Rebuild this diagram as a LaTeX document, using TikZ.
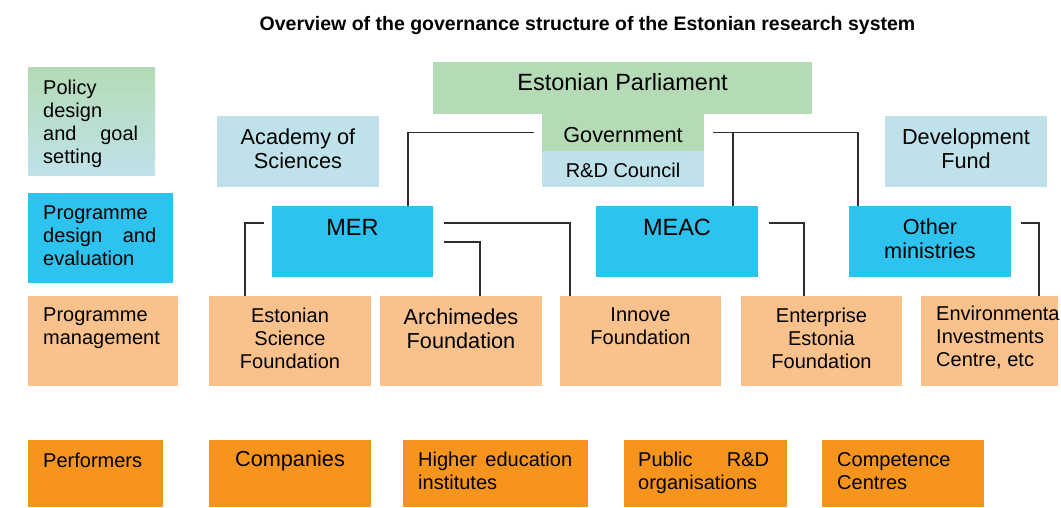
\documentclass[tikz,border=0pt]{standalone}
\usepackage{fontspec}
\setmainfont{Liberation Sans}
\usetikzlibrary{fit}

\definecolor{parlgreen}{HTML}{B4DBB5}
\definecolor{paleblue}{HTML}{BFE2EA}
\definecolor{minblue}{HTML}{2EC3EF}
\definecolor{fundorange}{HTML}{F9C28D}
\definecolor{perforange}{HTML}{F7941E}
\definecolor{linkgray}{HTML}{2E2E2E}

\tikzset{
  box/.style={inner sep=0pt, outer sep=0pt},
  lbl/.style={inner sep=0pt, align=center, font=\fontsize{20}{23}\selectfont},
  lblbig/.style={lbl, font=\fontsize{21.7}{24.3}\selectfont},
  lblhuge/.style={lbl, font=\fontsize{23.5}{27}\selectfont},
  side/.style={inner sep=0pt, align=left, anchor=west, font=\fontsize{20}{23}\selectfont},
  link/.style={draw=linkgray, line width=1.8pt},
}

\begin{document}
\begin{tikzpicture}[x=1pt,y=-1pt]
  \fill[white] (0,0) rectangle (1061,507);
  \useasboundingbox (0,0) rectangle (1061,507);

  \node[inner sep=0pt, font=\bfseries\fontsize{19.5}{22}\selectfont] (title) at (587.5,25)
    {Overview of the governance structure of the Estonian research system};

  % Left column: the four levels
  \node[box, top color=parlgreen, bottom color=paleblue, fit={(28,67) (155,175)}] (policy) {};
  \node[box, fill=minblue, fit={(28,193) (173,283)}] (progdesign) {};
  \node[box, fill=fundorange, fit={(28,296) (178,386)}] (progmgmt) {};
  \node[box, fill=perforange, fit={(28,440) (163,507)}] (performers) {};

  \node[side] (policy-t) at (43,123.5) {Policy\\design\\\hbox to 95pt{and\hfill goal}\\setting};
  \node[side] (progdesign-t) at (43,235.5) {Programme\\\hbox to 113pt{design\hfill and}\\evaluation};
  \node[side] (progmgmt-t) at (43,328.5) {Programme\\management};
  \node[side] (performers-t) at (43,460) {Performers};

  % Policy level
  \node[box, fill=parlgreen, fit={(433,62) (812,114)}] (parl) {};
  \node[box, fill=parlgreen, fit={(542,114) (704,151)}] (gov) {};
  \node[box, fill=paleblue, fit={(542,151) (704,187)}] (rdc) {};
  \node[box, fill=paleblue, fit={(217,116) (379,187)}] (academy) {};
  \node[box, fill=paleblue, fit={(885,116) (1047,187)}] (devfund) {};

  \node[lblhuge] (parl-t) at (622.5,82) {Estonian Parliament};
  \node[lblbig] (gov-t) at (623,135) {Government};
  \node[lbl] (rdc-t) at (623,170) {R\&D Council};
  \node[lblbig] (academy-t) at (298,149) {Academy of\\Sciences};
  \node[lblbig] (devfund-t) at (966,149) {Development\\Fund};

  % Ministries
  \node[box, fill=minblue, fit={(272,206) (433,277)}] (mer) {};
  \node[box, fill=minblue, fit={(596,206) (758,277)}] (meac) {};
  \node[box, fill=minblue, fit={(849,206) (1011,277)}] (othmin) {};

  \node[lblhuge] (mer-t) at (352.5,227) {MER};
  \node[lblhuge] (meac-t) at (677,227) {MEAC};
  \node[lblbig] (othmin-t) at (930,238.5) {Other\\ministries};

  % Programme management agencies
  \node[box, fill=fundorange, fit={(209,296) (371,386)}] (esf) {};
  \node[box, fill=fundorange, fit={(380,296) (542,386)}] (arch) {};
  \node[box, fill=fundorange, fit={(560,296) (721,386)}] (innove) {};
  \node[box, fill=fundorange, fit={(741,296) (902,386)}] (ent) {};
  \node[box, fill=fundorange, fit={(921,296) (1058,386)}] (env) {};

  \node[lbl] (esf-t) at (290,338) {Estonian\\Science\\Foundation};
  \node[lblbig] (arch-t) at (461,329) {Archimedes\\Foundation};
  \node[lbl] (innove-t) at (640.5,326.5) {Innove\\Foundation};
  \node[lbl] (ent-t) at (821.5,338) {Enterprise\\Estonia\\Foundation};
  \node[side] (env-t) at (936,338) {Environmenta\\Investments\\Centre, etc};

  % Performers
  \node[box, fill=perforange, fit={(209,440) (371,507)}] (companies) {};
  \node[box, fill=perforange, fit={(403,440) (588,507)}] (hei) {};
  \node[box, fill=perforange, fit={(624,440) (787,507)}] (publicrd) {};
  \node[box, fill=perforange, fit={(822,440) (984,507)}] (compc) {};

  \node[lblbig] (companies-t) at (290,461) {Companies};
  \node[side] (hei-t) at (418,471) {\hbox to 154pt{Higher\hfill education}\\institutes};
  \node[side] (publicrd-t) at (638,473) {\hbox to 131pt{Public\hfill R\&D}\\organisations};
  \node[side] (compc-t) at (837,471) {Competence\\Centres};

  % Connectors
  \draw[link] ([xshift=-8pt]gov.west) -| ([xshift=55.5pt]mer.north);
  \draw[link] ([xshift=9pt]gov.east) -| ([xshift=-72pt]othmin.north);
  \draw[link] ([xshift=56pt]meac.north) -- ([xshift=56pt]meac.north |- gov.east);
  \draw[link] ([xshift=-8pt,yshift=-17pt]mer.north west) -| ([xshift=-45pt]esf.north);
  \draw[link] ([xshift=11pt,yshift=-17pt]mer.north east) -| ([xshift=-70.5pt]innove.north);
  \draw[link] ([xshift=11pt,yshift=-36pt]mer.north east) -| ([xshift=19pt]arch.north);
  \draw[link] ([xshift=11pt,yshift=-17pt]meac.north east) -| ([xshift=-17.5pt]ent.north);
  \draw[link] ([xshift=10pt,yshift=-17pt]othmin.north east) -| ([xshift=49.5pt]env.north);
\end{tikzpicture}
\end{document}
